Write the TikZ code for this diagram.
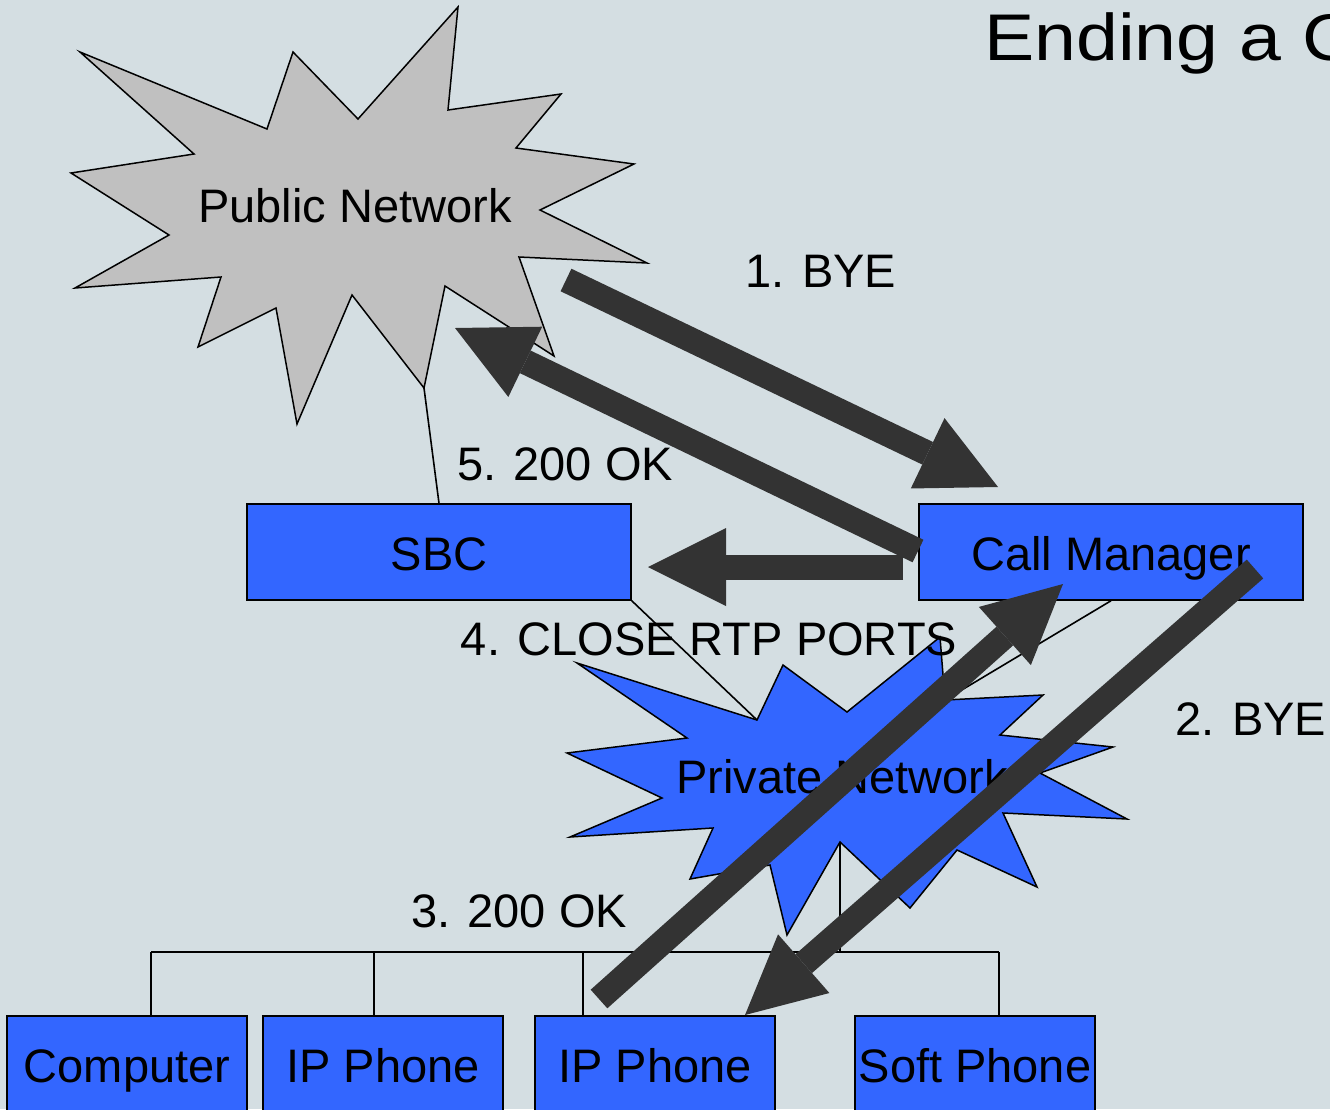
\documentclass[tikz,border=0pt]{standalone}
\usepackage{fontspec}
\usepackage{graphicx}
\setmainfont{Liberation Sans}
\usetikzlibrary{arrows.meta}
\definecolor{bg}{RGB}{212,222,226}
\definecolor{boxblue}{RGB}{51,102,255}
\definecolor{pubgray}{RGB}{192,192,192}
\definecolor{arrowgray}{RGB}{51,51,51}
\begin{document}
\begin{tikzpicture}[x=1pt,y=-1pt,
  lab/.style={font=\fontsize{47}{56}\selectfont, anchor=base, inner sep=0pt},
  box/.style={draw=black, line width=1.5pt, fill=boxblue, minimum width=240pt, minimum height=96pt, inner sep=0pt, text height=36pt, text depth=0pt, font=\fontsize{47}{56}\selectfont},
  wide/.style={box, minimum width=384pt},
  burst/.style={draw=black, line width=1.5pt, line join=miter},
  thinline/.style={draw=black, line width=1.6pt},
  bigarrow/.style={draw=arrowgray, line width=25pt, -{Triangle[length=78pt,width=78pt,line width=0pt]}}
]
\clip (0,0) rectangle (1330,1109);
\fill[bg] (0,0) rectangle (1330,1109);

% title
\node[font=\fontsize{66}{78}\selectfont, anchor=base west, inner sep=0pt] (title) at (984,60) {\scalebox{1.14}[1]{Ending a Call}};

% Public Network starburst
\draw[burst, fill=pubgray] (80,52) -- (267,129) -- (293,52) -- (358,119) -- (458,7) -- (448,110)
  -- (561,94) -- (516,148) -- (634,164) -- (540,210) -- (647,263) -- (519,257) -- (554,356)
  -- (445,286) -- (424,388) -- (352,295) -- (297,424) -- (276,308) -- (198,347) -- (221,277)
  -- (75,288) -- (169,235) -- (71,173) -- (194,154) -- cycle;
\coordinate (pubtip) at (424,388);
\node[lab] (pubtext) at (355,222) {Public Network};

% Private Network starburst
\draw[burst, fill=boxblue] (577,663) -- (757,720) -- (783,665) -- (847,712) -- (940,637) -- (945,700)
  -- (1043,695) -- (1000,735) -- (1113,747) -- (1040,773) -- (1127,819) -- (1003,813) -- (1037,887)
  -- (957,850) -- (910,908) -- (840,842) -- (787,935) -- (770,865) -- (690,879) -- (713,828)
  -- (570,837) -- (662,798) -- (567,753) -- (687,738) -- cycle;
\coordinate (privnw) at (757,720);
\coordinate (privne) at (945,700);
\coordinate (privs) at (840,842);

% boxes
\node[wide] (sbc) at (439,552) {SBC};
\node[wide] (cm) at (1111,552) {Call Manager};
\node[box] (comp) at (127,1064) {Computer};
\node[box] (ip1) at (383,1064) {IP Phone};
\node[box] (ip2) at (655,1064) {IP Phone};
\node[box] (soft) at (975,1064) {Soft Phone};

% thin connectors
\draw[thinline] (pubtip) -- (sbc.north);
\draw[thinline] (sbc.south east) -- (privnw);
\draw[thinline] (cm.south) -- (privne);
\coordinate (bus1) at (151,952);
\coordinate (bus2) at (374,952);
\coordinate (bus3) at (583,952);
\coordinate (bus4) at (999,952);
\coordinate (busp) at (840,952);
\draw[thinline] (bus1) -- (bus4);
\draw[thinline] (privs) -- (busp);
\draw[thinline] (bus1) -- (bus1 |- comp.north);
\draw[thinline] (bus2) -- (bus2 |- ip1.north);
\draw[thinline] (bus3) -- (bus3 |- ip2.north);
\draw[thinline] (bus4) -- (bus4 |- soft.north);

\node[lab] (privtext) at (842,793) {Private Network};

% labels
\node[lab] (l1) at (821,287) {1. BYE};
\node[lab] (l5) at (565,480) {5. 200 OK};
\node[lab] (l4) at (709,655) {4. CLOSE RTP PORTS};
\node[lab] (l3) at (519,927) {3. 200 OK};
\node[lab] (l2) at (1251,735) {2. BYE};

% thick arrows
\coordinate (a1s) at (566,280); \coordinate (a1e) at (998,487);
\coordinate (a5s) at (918,551); \coordinate (a5e) at (455,328);
\coordinate (a4s) at (903,567); \coordinate (a4e) at (648,567);
\coordinate (a3s) at (599,999); \coordinate (a3e) at (1063,584);
\coordinate (a2s) at (1255,569); \coordinate (a2e) at (745,1015);
\draw[bigarrow] (a1s) -- (a1e);
\draw[bigarrow] (a5s) -- (a5e);
\draw[bigarrow] (a4s) -- (a4e);
\draw[bigarrow] (a3s) -- (a3e);
\draw[bigarrow] (a2s) -- (a2e);
\end{tikzpicture}
\end{document}
